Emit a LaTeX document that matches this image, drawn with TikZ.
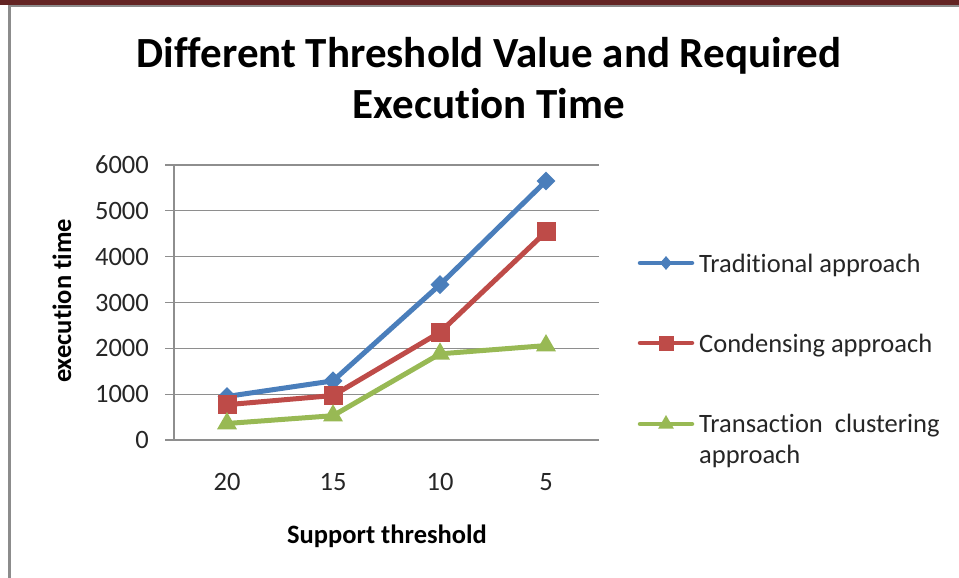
\documentclass[tikz,border=0pt]{standalone}
\usepackage{fontspec}
\setmainfont{Carlito}[Ligatures=NoCommon]
\usetikzlibrary{shapes.geometric}

\definecolor{barred}{HTML}{632423}
\definecolor{framegray}{HTML}{8C8C8C}
\definecolor{gridgray}{HTML}{8E8E8E}
\definecolor{inktext}{HTML}{262626}
\definecolor{seriesA}{HTML}{4A7EBB}
\definecolor{seriesB}{HTML}{BE4B48}
\definecolor{seriesC}{HTML}{98B954}

\tikzset{
  gridline/.style={draw=gridgray, line width=1.3pt},
  serline/.style={line width=5pt, line join=round},
  dmark/.style={diamond, inner sep=0pt, minimum width=19pt, minimum height=19pt},
  smark/.style={rectangle, inner sep=0pt, minimum size=19pt},
  tmark/.style={regular polygon, regular polygon sides=3, inner sep=0pt, minimum size=23pt},
  ticklabel/.style={text=inktext, font=\fontsize{26.5}{30}\selectfont, inner sep=0pt},
  axistitle/.style={text=black, font=\bfseries\fontsize{26.5}{30}\selectfont, inner sep=0pt},
  legtext/.style={text=inktext, font=\fontsize{26.5}{30}\selectfont, inner sep=0pt, anchor=base west},
  titletext/.style={font=\bfseries\fontsize{43}{50}\selectfont, anchor=base, inner sep=0pt},
}

\newcommand{\yv}[1]{440-#1*0.045833}

\begin{document}
\begin{tikzpicture}[x=1pt, y=-1pt]
\useasboundingbox (0,0) rectangle (959,578);

% page frame: dark bar on top, grey rules along the top and left
\fill[barred] (0,0) rectangle (959,5);
\fill[framegray] (8,5) rectangle (959,7.5);
\fill[framegray] (8,5) rectangle (10.5,578);

% title
\node[titletext] (title1) at (489,68) {Different Threshold Value and Required};
\node[titletext] (title2) at (489,118) {Execution Time};

% value grid, axis and tick labels
\foreach \v in {0,...,6}{
  \draw[gridline] (165,{440-\v*45.833}) -- (599,{440-\v*45.833});
  \node[ticklabel, anchor=east] (ylab\v) at (149,{440-\v*45.833}) {\the\numexpr\v*1000\relax};
}
\draw[gridline] (174,165) -- (174,440);

% category labels
\foreach \c/\lab [count=\i] in {227/20, 333/15, 440/10, 546/5}{
  \node[ticklabel] (xlab\i) at (\c,482) {\lab};
}

% axis titles
\node[axistitle] (xtitle) at (387,536) {Support threshold};
\node[axistitle, rotate=90] (ytitle) at (62,301) {execution time};

% data points
\foreach \c/\v [count=\i] in {227/950, 333/1290, 440/3390, 546/5650}{
  \coordinate (a\i) at (\c,{\yv{\v}});
}
\foreach \c/\v [count=\i] in {227/770, 333/970, 440/2350, 546/4540}{
  \coordinate (b\i) at (\c,{\yv{\v}});
}
\foreach \c/\v [count=\i] in {227/360, 333/530, 440/1880, 546/2060}{
  \coordinate (c\i) at (\c,{\yv{\v}});
}

% Traditional approach
\draw[serline, seriesA] (a1) -- (a2) -- (a3) -- (a4);
\foreach \i in {1,...,4}{ \node[dmark, fill=seriesA] (ma\i) at (a\i) {}; }
% Condensing approach
\draw[serline, seriesB] (b1) -- (b2) -- (b3) -- (b4);
\foreach \i in {1,...,4}{ \node[smark, fill=seriesB] (mb\i) at (b\i) {}; }
% Transaction clustering approach
\draw[serline, seriesC] (c1) -- (c2) -- (c3) -- (c4);
\foreach \i in {1,...,4}{ \node[tmark, fill=seriesC] (mc\i) at (c\i) {}; }

% legend
\foreach \k/\y/\col in {A/263/seriesA, B/343/seriesB, C/424/seriesC}{
  \coordinate (l\k s) at (640,\y);
  \coordinate (l\k e) at (692,\y);
  \draw[serline, \col, line cap=round, line width=4.5pt] (l\k s) -- (l\k e);
}
\node[dmark, fill=seriesA, minimum width=12pt, minimum height=14pt] (lgA) at (666,263) {};
\node[smark, fill=seriesB, minimum size=15pt] (lgB) at (666,343) {};
\node[tmark, fill=seriesC, minimum size=18pt] (lgC) at (666,424) {};
\node[legtext] (ltA) at (699,272) {Traditional approach};
\node[legtext] (ltB) at (699,352) {Condensing approach};
\node[legtext] (ltC) at (699,432) {Transaction\ \ clustering};
\node[legtext] (ltC2) at (699,463) {approach};
\end{tikzpicture}
\end{document}
